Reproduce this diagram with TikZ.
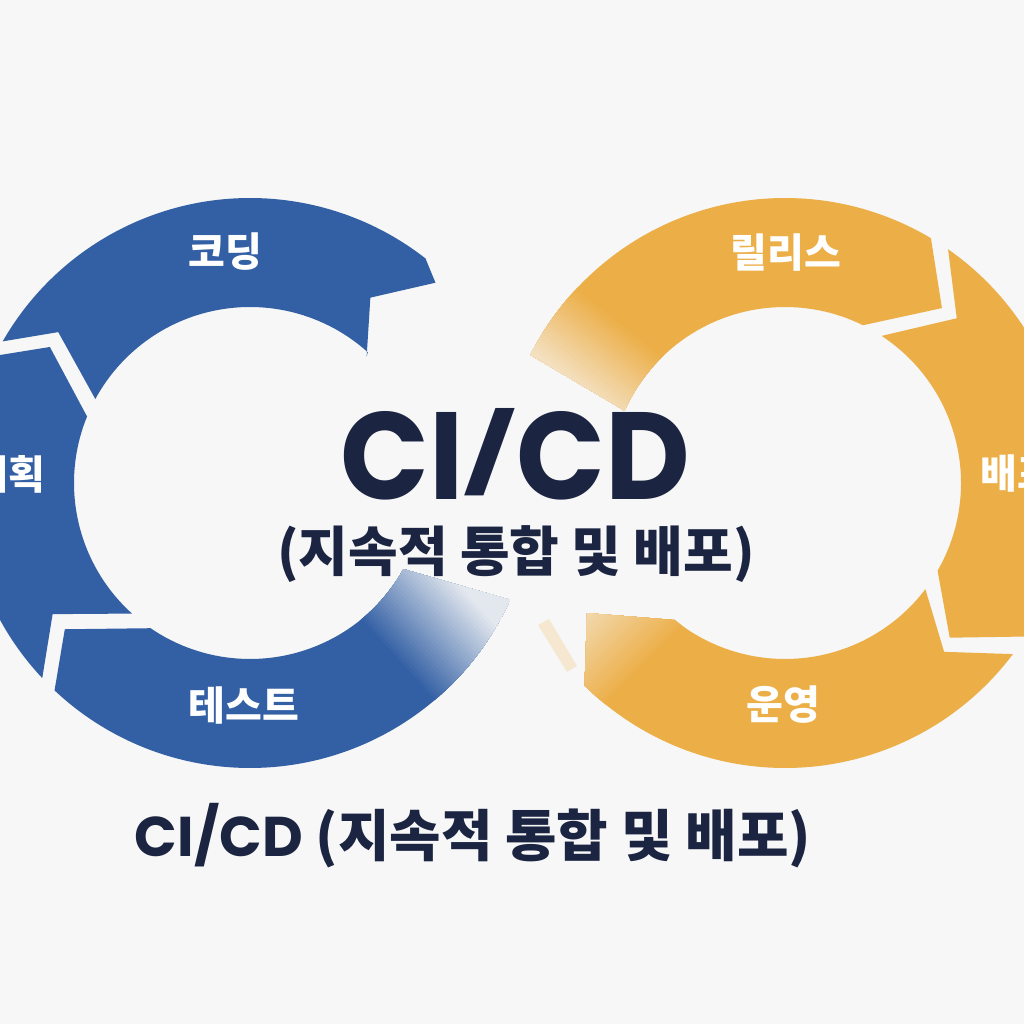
\documentclass[tikz,border=0pt]{standalone}
\usepackage{fontspec}
\newfontfamily\krfont{Noto Sans CJK KR}
\newfontfamily\popfont{Poppins}
\definecolor{bgc}{HTML}{F7F7F7}
\definecolor{bluec}{HTML}{3360A4}
\definecolor{orangec}{HTML}{ECAE47}
\definecolor{navy}{HTML}{1B2441}
\tikzset{
  lbl/.style={text=white, font=\krfont\bfseries\fontsize{20}{24}\selectfont, inner sep=0pt},
  bigtitle/.style={text=navy, font=\popfont\bfseries\fontsize{62}{70}\selectfont, inner sep=0pt},
  subtitle/.style={text=navy, font=\krfont\bfseries\fontsize{27}{31}\selectfont, inner sep=0pt, text height=0.82em, text depth=0.16em},
  captiontext/.style={text=navy, font=\krfont\bfseries\fontsize{28}{32}\selectfont, inner sep=0pt, text height=0.82em, text depth=0.16em},
}
\def\planpath{([shift={(B)}]223.2:285) arc[start angle=223.2,end angle=153.5,radius=285]
  -- ([shift={(B)}]145.8:242) -- ([shift={(B)}]157.8:176)
  arc[start angle=157.8,end angle=227.9,radius=176]
  -- ([shift={(B)}]213.6:237) -- cycle}
\def\codepath{([shift={(B)}]150.2:285) arc[start angle=150.2,end angle=52,radius=285]
  -- ([shift={(B)}]47.2:273) -- ([shift={(B)}]57:221) -- ([shift={(B)}]47.3:172)
  -- ([shift={(B)}]48:176) arc[start angle=48,end angle=151.5,radius=176]
  -- ([shift={(B)}]141.8:244) -- cycle}
\def\testpath{([shift={(B)}]-24.2:285) arc[start angle=-24.2,end angle=-133.3,radius=285]
  -- ([shift={(B)}]-141.7:236) -- ([shift={(B)}]-124.4:176)
  arc[start angle=-124.4,end angle=-29.3,radius=176] -- cycle}
\def\relpath{([shift={(O)}]153.3:285) arc[start angle=153.3,end angle=59.2,radius=285]
  -- ([shift={(O)}]48.1:235) -- ([shift={(O)}]63.7:176)
  arc[start angle=63.7,end angle=155.7,radius=176] -- cycle}
\def\deppath{([shift={(O)}]55.1:285) arc[start angle=55.1,end angle=-32.6,radius=285]
  -- ([shift={(O)}]-43.2:226) -- ([shift={(O)}]-29.9:176)
  arc[start angle=-29.9,end angle=56.7,radius=176]
  -- ([shift={(O)}]43.8:238) -- cycle}
\def\opspath{([shift={(O)}]-36.9:285) arc[start angle=-36.9,end angle=-134.7,radius=285]
  -- ([shift={(O)}]-146.7:237) -- ([shift={(O)}]-128.9:176)
  arc[start angle=-128.9,end angle=-37.1,radius=176]
  -- ([shift={(O)}]-46.7:232) -- cycle}
\begin{document}
\begin{tikzpicture}[x=0.5pt,y=0.5pt]
\useasboundingbox (0,0) rectangle (1024,1024);
\fill[bgc] (0,0) rectangle (1024,1024);
\clip (0,0) rectangle (1024,1024);
\coordinate (B) at (250,541);
\coordinate (O) at (785,541);
% blue loop
\fill[bluec] \planpath;
\fill[bluec] \codepath;
\fill[bluec] \testpath;
\begin{scope}
  \clip \testpath;
  \begin{scope}[shift={(396,363)}, rotate=42]
    \foreach \k in {0,...,40}{
      \pgfmathtruncatemacro\p{max(10,100-90*\k/30)}
      \fill[bluec!\p!bgc] (\k*97/30,-220) rectangle (320,220);
    }
  \end{scope}
\end{scope}
% orange loop
\fill[orangec] \relpath;
\begin{scope}
  \clip \relpath;
  \begin{scope}[shift={(620.8,702.5)}, rotate=231.8]
    \foreach \k in {0,...,40}{
      \pgfmathtruncatemacro\p{max(32,100-68*\k/30)}
      \fill[orangec!\p!bgc] (\k*76/30,-220) rectangle (320,220);
    }
  \end{scope}
\end{scope}
\fill[orangec] \deppath;
\fill[orangec] \opspath;
\begin{scope}
  \clip \opspath;
  \begin{scope}[shift={(643.6,354.4)}, rotate=135]
    \foreach \k in {0,...,40}{
      \pgfmathtruncatemacro\p{max(40,100-60*\k/30)}
      \fill[orangec!\p!bgc] (\k*80/30,-220) rectangle (320,220);
    }
  \end{scope}
\end{scope}
\fill[orangec!22!bgc] (538,399) -- (549,405) -- (577,358) -- (567,352) -- cycle;
% labels
\node[lbl] (plan) at (8,550) {계획};
\node[lbl] (code) at (225,772) {코딩};
\node[lbl] (test) at (244,318) {테스트};
\node[lbl] (rel) at (786,771) {릴리스};
\node[lbl] (dep) at (1017,550) {배포};
\node[lbl] (ops) at (783,319) {운영};
\node[bigtitle, anchor=base] (title) at (515,524) {\scalebox{0.94}[1]{CI\raisebox{0.15em}{\scalebox{1}[0.62]{/}}CD}};
\node[subtitle, anchor=base] (sub) at (516,452) {(지속적 통합 및 배포)};
\node[captiontext, anchor=base] (caption) at (473,167) {{\popfont\bfseries CI/CD} (지속적 통합 및 배포)};
\end{tikzpicture}
\end{document}
